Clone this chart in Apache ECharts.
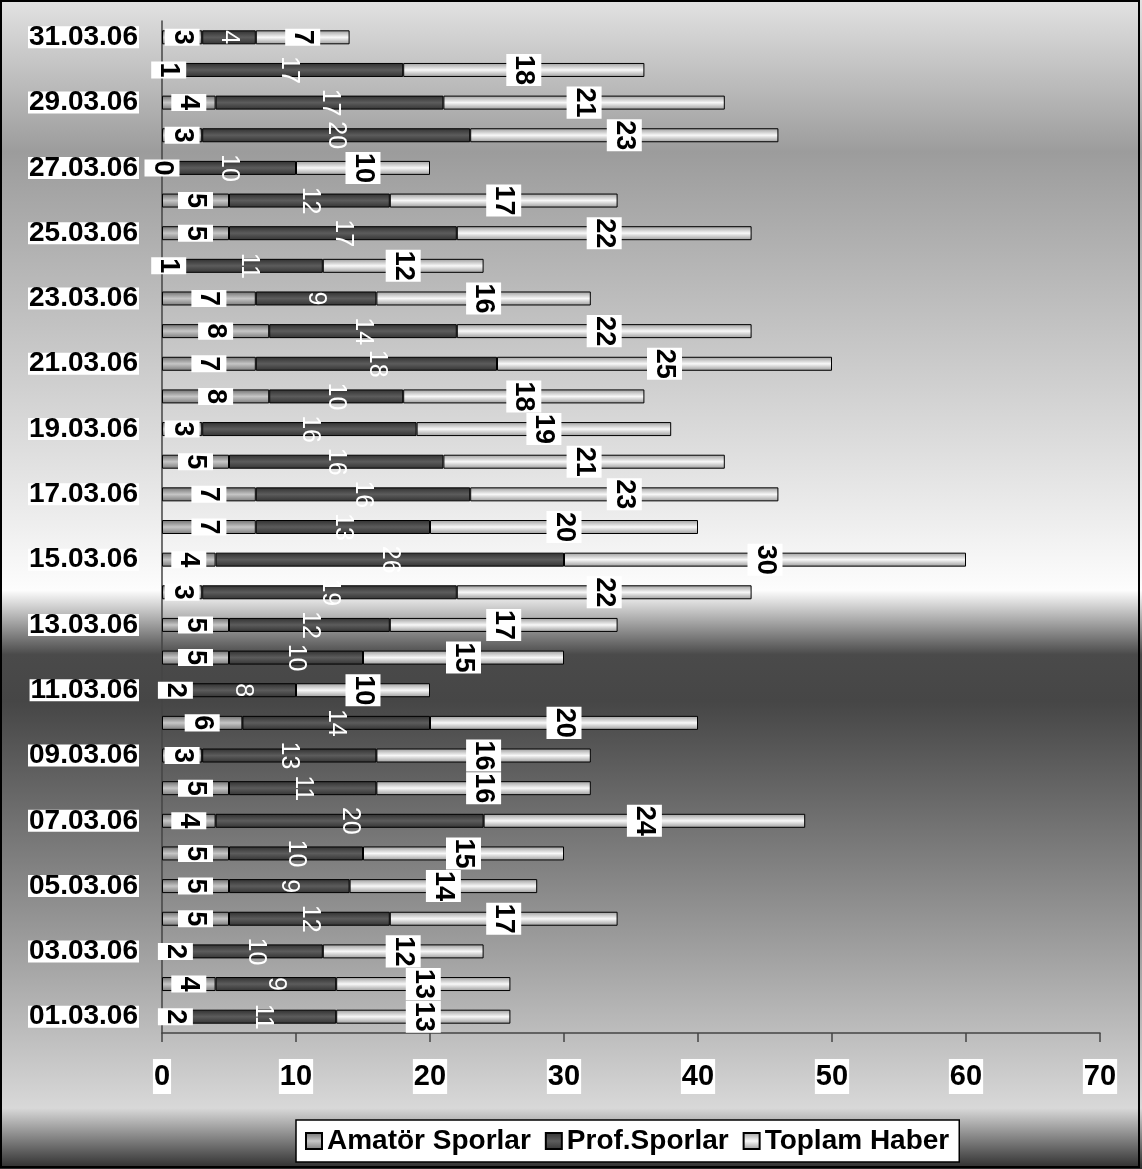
<!DOCTYPE html>
<html>
<head>
<meta charset="utf-8">
<script src="https://cdn.jsdelivr.net/npm/echarts@6/dist/echarts.min.js"></script>
<style>
html,body{margin:0;padding:0;background:#fff;}
#chart{width:1142px;height:1169px;}
</style>
</head>
<body>
<div id="chart"></div>
<script>
const categories = ['01.03.06','02.03.06','03.03.06','04.03.06','05.03.06','06.03.06','07.03.06','08.03.06','09.03.06','10.03.06','11.03.06','12.03.06','13.03.06','14.03.06','15.03.06','16.03.06','17.03.06','18.03.06','19.03.06','20.03.06','21.03.06','22.03.06','23.03.06','24.03.06','25.03.06','26.03.06','27.03.06','28.03.06','29.03.06','30.03.06','31.03.06'];
const amator = [2,4,2,5,5,5,4,5,3,6,2,5,5,3,4,7,7,5,3,8,7,8,7,1,5,5,0,3,4,1,3];
const prof   = [11,9,10,12,9,10,20,11,13,14,8,10,12,19,26,13,16,16,16,10,18,14,9,11,17,12,10,20,17,17,4];
const toplam = [13,13,12,17,14,15,24,16,16,20,10,15,17,22,30,20,23,21,19,18,25,22,16,12,22,17,10,23,21,18,7];
const xTicks = [0,10,20,30,40,50,60,70];
const seriesNames = ['Amatör Sporlar','Prof.Sporlar','Toplam Haber'];

const FONT = "'Liberation Sans', Arial, sans-serif";
const grad = (a,b,c) => new echarts.graphic.LinearGradient(0,0,0,1,[{offset:0,color:a},{offset:0.5,color:b},{offset:1,color:c}]);

const blackLabel = {
  show:true, position:'inside', rotate:-90, color:'#000', fontWeight:'bold',
  fontSize:27, fontFamily:FONT, backgroundColor:'#fff', lineHeight:35, padding:[0,1]
};
const whiteLabel = {
  show:true, position:'inside', rotate:-90, color:'#fff', fontWeight:'normal',
  fontSize:25, fontFamily:FONT
};

const chart = echarts.init(document.getElementById('chart'), null, {renderer:'canvas'});
chart.setOption({
  animation:false,
  graphic:[
    {type:'rect', z:-100, silent:true, shape:{x:0,y:0,width:1142,height:1169},
     style:{fill:new echarts.graphic.LinearGradient(0,0,0,1,[
       {offset:0,color:'#e2e2e2'},
       {offset:0.13,color:'#9c9c9c'},
       {offset:0.505,color:'#fdfdfd'},
       {offset:0.56,color:'#4a4a4a'},
       {offset:0.6,color:'#464646'},
       {offset:0.948,color:'#d8d8d8'},
       {offset:1,color:'#2c2c2c'}
     ])}},
    {type:'rect', z:100, silent:true, shape:{x:1,y:1,width:1138,height:1166},
     style:{fill:'none', stroke:'#000', lineWidth:2}}
  ],
  grid:{left:162, right:42, top:21, bottom:136, containLabel:false},
  legend:{
    left:296, top:1120, orient:'horizontal',
    backgroundColor:'#fff', borderColor:'#000', borderWidth:1.5,
    padding:[7,10,7,9], itemWidth:16, itemHeight:16, itemGap:14,
    icon:'rect',
    textStyle:{fontSize:28, fontWeight:'bold', color:'#000', fontFamily:FONT},
    data:seriesNames
  },
  xAxis:{
    type:'value', min:0, max:70, interval:10,
    splitLine:{show:false},
    axisLine:{show:true, lineStyle:{color:'#444', width:1.5}},
    axisTick:{show:true, length:9, lineStyle:{color:'#444', width:1.5}},
    axisLabel:{
      margin:26, fontSize:29, fontWeight:'bold', color:'#000', fontFamily:FONT,
      backgroundColor:'#fff', lineHeight:35, padding:[0,1],
      formatter:(v)=> xTicks.includes(v) ? String(v) : ''
    }
  },
  yAxis:{
    type:'category', data:categories,
    axisLine:{show:true, lineStyle:{color:'#444', width:1.5}},
    axisTick:{show:false},
    axisLabel:{
      interval:1, margin:23, fontSize:28, fontWeight:'bold', color:'#000', fontFamily:FONT,
      backgroundColor:'#fff', lineHeight:22, padding:[0,1]
    }
  },
  series:[
    {name:seriesNames[0], type:'bar', stack:'s', data:amator, barWidth:14,
     itemStyle:{color:grad('#6e6e6e','#c6c6c6','#7a7a7a'), borderColor:'#000', borderWidth:1},
     label:blackLabel},
    {name:seriesNames[1], type:'bar', stack:'s', data:prof, barWidth:14,
     itemStyle:{color:grad('#303030','#5c5c5c','#333333'), borderColor:'#000', borderWidth:1},
     label:whiteLabel},
    {name:seriesNames[2], type:'bar', stack:'s', data:toplam, barWidth:14,
     itemStyle:{color:grad('#9c9c9c','#f8f8f8','#9a9a9a'), borderColor:'#000', borderWidth:1},
     label:blackLabel}
  ]
});
</script>
</body>
</html>
